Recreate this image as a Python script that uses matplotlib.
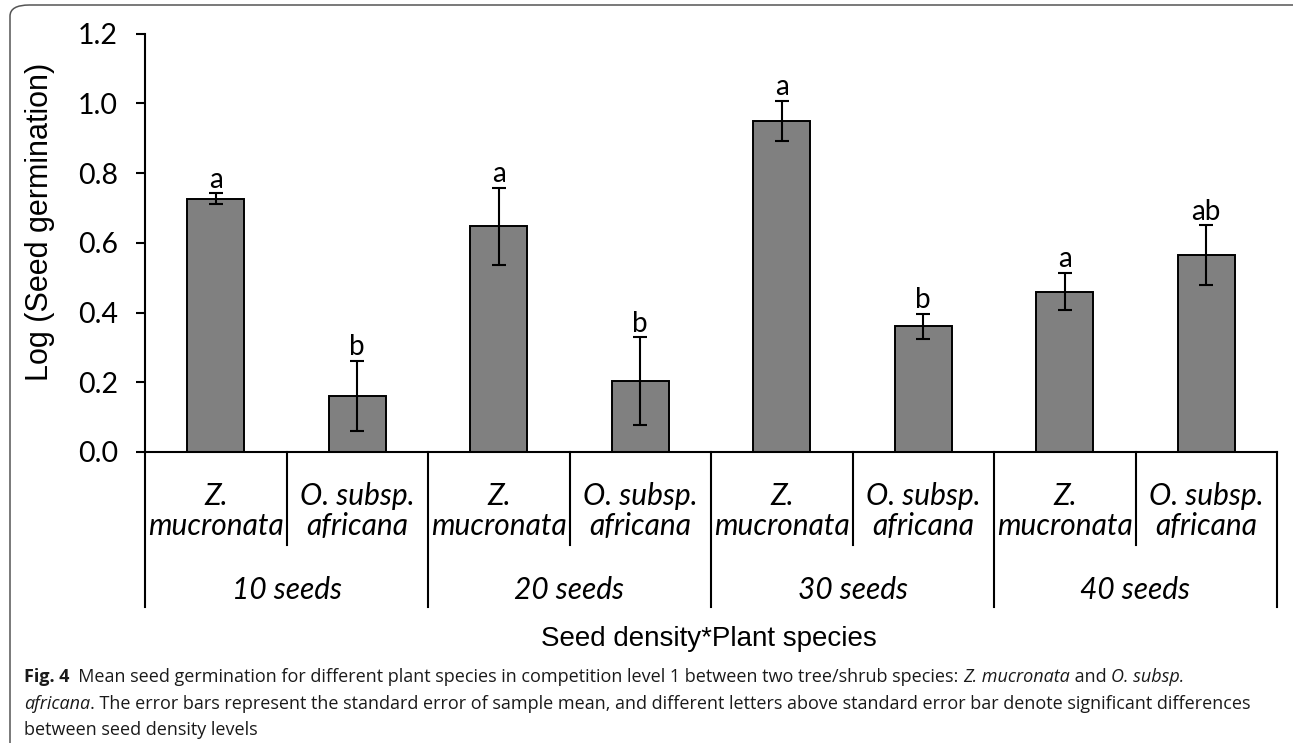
import matplotlib
matplotlib.use("Agg")
import matplotlib.pyplot as plt
from matplotlib.patches import FancyBboxPatch
import matplotlib.transforms as mtransforms

# 数据
species = ["Z.\nmucronata", "O. subsp.\nafricana"] * 4
groups = ["10 seeds", "20 seeds", "30 seeds", "40 seeds"]
means = [0.726, 0.161, 0.647, 0.203, 0.949, 0.360, 0.460, 0.565]
errors = [0.016, 0.100, 0.110, 0.126, 0.057, 0.037, 0.054, 0.085]
letters = ["a", "b", "a", "b", "a", "b", "a", "ab"]
yticks = [0.0, 0.2, 0.4, 0.6, 0.8, 1.0, 1.2]

W, H = 1293, 743
fig = plt.figure(figsize=(W / 100, H / 100), dpi=100)

# 外框（圆角）
frame = FancyBboxPatch((10 / W, -0.2), 1.2, 0.2 + (H - 5) / H,
                       boxstyle="round,pad=0,rounding_size=0.015",
                       transform=fig.transFigure, fill=False,
                       edgecolor="#555555", linewidth=1.1, clip_on=False)
fig.patches.append(frame)

ax = fig.add_axes([145 / W, 1 - 452 / H, (1277 - 145) / W, (452 - 33.5) / H])
x = list(range(len(means)))
ax.bar(x, means, width=0.4, color="#808080", edgecolor="black", linewidth=1.4, zorder=2)
ax.errorbar(x, means, yerr=errors, fmt="none", ecolor="black",
            elinewidth=1.5, capsize=5, capthick=1.5, zorder=3)
for xi, m, e, l in zip(x, means, errors, letters):
    ax.annotate(l, (xi, m + e), xytext=(0, 0.5), textcoords="offset points",
                ha="center", va="bottom", fontsize=20, family="Lato")

ax.set_xlim(-0.5, len(means) - 0.5)
ax.set_ylim(0, 1.2)
ax.set_yticks(yticks)
ax.set_yticklabels([f"{v:.1f}" for v in yticks], fontsize=20.5, family="Lato")
ax.set_xticks([])
ax.spines["top"].set_visible(False)
ax.spines["right"].set_visible(False)
ax.spines["left"].set_linewidth(1.5)
ax.spines["bottom"].set_linewidth(1.5)
ax.tick_params(axis="y", direction="out", length=6.5, width=1.5, pad=13)

# 多级分类轴
trans = mtransforms.blended_transform_factory(ax.transData, ax.transAxes)
short_y = -(545 - 452) / 418.5
long_y = -(607 - 452) / 418.5
for i in range(len(means) + 1):
    xs = i - 0.5
    yb = long_y if i % 2 == 0 else short_y
    ax.plot([xs, xs], [0, yb], transform=trans, color="black", lw=1.5, clip_on=False)
for xi, s in zip(x, species):
    ax.text(xi, -(511 - 452) / 418.5, s, transform=trans, ha="center", va="center",
            fontsize=21.5, family="Lato", style="italic", linespacing=1.1)
for gi, g in enumerate(groups):
    ax.text(2 * gi + 0.5, -(590 - 452) / 418.5, g, transform=trans, ha="center",
            va="center", fontsize=21.5, family="Lato", style="italic")

fig.text(40 / W, 1 - 222 / H, "Log (Seed germination)", rotation=90, ha="center",
         va="center", fontsize=22, family="Liberation Sans")
fig.text(709 / W, 1 - 639 / H, "Seed density*Plant species", ha="center",
         va="center", fontsize=20, family="Liberation Sans")

# 图注
cap_lines = [
    [("Fig. 4", "bold", "normal"),
     ("  Mean seed germination for different plant species in competition level 1 between two tree/shrub species: ", "normal", "normal"),
     ("Z. mucronata", "normal", "italic"), (" and ", "normal", "normal"), ("O. subsp.", "normal", "italic")],
    [("africana", "normal", "italic"),
     (". The error bars represent the standard error of sample mean, and different letters above standard error bar denote significant differences", "normal", "normal")],
    [("between seed density levels", "normal", "normal")],
]
cap_y = [677, 704, 730]
fig.canvas.draw()
r = fig.canvas.get_renderer()

# 以第二行宽度确定字号
def line_width(line, size):
    w = 0
    for s, wgt, sty in line:
        t = fig.text(0, 0, s, fontsize=size, family="Open Sans", weight=wgt, style=sty)
        w += t.get_window_extent(r).width
        t.remove()
    return w

cap_size = 13 * 1222 / line_width(cap_lines[1], 13)
for line, yy in zip(cap_lines, cap_y):
    xp = 24
    for s, wgt, sty in line:
        t = fig.text(xp / W, 1 - yy / H, s, ha="left", va="center", fontsize=cap_size,
                     family="Open Sans", weight=wgt, style=sty, color="#1a1a1a")
        xp += t.get_window_extent(r).width

fig.savefig("out.png", dpi=100)
